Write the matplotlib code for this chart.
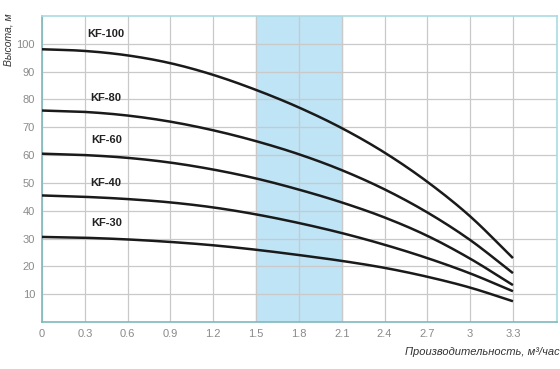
import matplotlib
matplotlib.use("Agg")
import matplotlib.pyplot as plt
import numpy as np

# flow, m3/h
flow = [0, 0.3, 0.6, 0.9, 1.2, 1.5, 1.8, 2.1, 2.4, 2.7, 3.0, 3.3]

# head, m
kf100 = [98, 97.4, 95.8, 93.0, 88.8, 83.4, 77.1, 69.7, 60.9, 50.4, 38.0, 23.0]
kf80 = [76, 75.5, 74.2, 72.0, 68.9, 65.0, 60.3, 54.6, 47.7, 39.4, 29.5, 17.6]
kf60 = [60.5, 60.0, 59.0, 57.3, 54.8, 51.6, 47.6, 43.0, 37.6, 31.0, 22.8, 13.3]
kf40 = [45.5, 45.0, 44.2, 43.0, 41.2, 38.7, 35.6, 32.0, 27.8, 23.0, 17.5, 11.1]
kf30 = [30.6, 30.3, 29.7, 28.8, 27.6, 26.0, 24.1, 22.0, 19.5, 16.3, 12.4, 7.5]

names = ["KF-100", "KF-80", "KF-60", "KF-40", "KF-30"]
heads = [kf100, kf80, kf60, kf40, kf30]
label_y = [103.5, 80.6, 65.4, 49.9, 35.7]

band = (1.5, 2.1)
xticks = [0, 0.3, 0.6, 0.9, 1.2, 1.5, 1.8, 2.1, 2.4, 2.7, 3, 3.3]
xticklabels = ["0", "0.3", "0.6", "0.9", "1.2", "1.5", "1.8", "2.1", "2.4", "2.7", "3", "3.3"]
yticks = [10, 20, 30, 40, 50, 60, 70, 80, 90, 100]


def smooth(x, y, n=12):
    # catmull-rom path through the read points, only for a smooth line
    x = np.asarray(x, float)
    y = np.asarray(y, float)
    px = np.concatenate([[2 * x[0] - x[1]], x, [2 * x[-1] - x[-2]]])
    py = np.concatenate([[2 * y[0] - y[1]], y, [2 * y[-1] - y[-2]]])
    t = np.linspace(0, 1, n, endpoint=False)[:, None]
    out_x, out_y = [], []
    for i in range(1, len(px) - 2):
        for arr, out in ((px, out_x), (py, out_y)):
            p0, p1, p2, p3 = arr[i - 1], arr[i], arr[i + 1], arr[i + 2]
            seg = 0.5 * (2 * p1 + (-p0 + p2) * t + (2 * p0 - 5 * p1 + 4 * p2 - p3) * t ** 2
                         + (-p0 + 3 * p1 - 3 * p2 + p3) * t ** 3)
            out.extend(seg.ravel())
    out_x.append(x[-1])
    out_y.append(y[-1])
    return out_x, out_y


plt.rcParams["font.family"] = ["Liberation Sans", "DejaVu Sans"]

fig = plt.figure(figsize=(5.6, 3.69), dpi=100)
ax = fig.add_axes([0.075, 0.127, 0.92, 0.83])

ax.axvspan(band[0], band[1], color="#bfe4f6", zorder=0)

for name, y, ly in zip(names, heads, label_y):
    sx, sy = smooth(flow, y)
    ax.plot(sx, sy, color="#1a1a1a", lw=1.8, zorder=3, solid_capstyle="butt")
    ax.text(0.45, ly, name, ha="center", va="center", fontsize=8,
            fontweight="bold", color="#222222", zorder=4)

ax.set_xlim(0, 3.61)
ax.set_ylim(0, 110)
ax.set_xticks(xticks)
ax.set_xticklabels(xticklabels)
ax.set_yticks(yticks)
ax.grid(True, color="#c9c9c9", lw=0.9, zorder=1)
ax.set_axisbelow(True)
ax.tick_params(length=0, labelsize=8, colors="#8a8a8a", pad=5)
for s in ax.spines.values():
    s.set_color("#a8dbe3")
    s.set_linewidth(1.2)
ax.spines["left"].set_color("#7fb8bd")
ax.spines["bottom"].set_color("#7fb8bd")

fig.text(0.016, 0.965, "Высота, м", rotation=90, ha="center", va="top",
         fontsize=7.5, fontstyle="italic", color="#333333")
fig.text(1.0, 0.045, "Производительность, м³/час", ha="right", va="center",
         fontsize=8, fontstyle="italic", color="#333333")

fig.savefig("out.png", dpi=100)
